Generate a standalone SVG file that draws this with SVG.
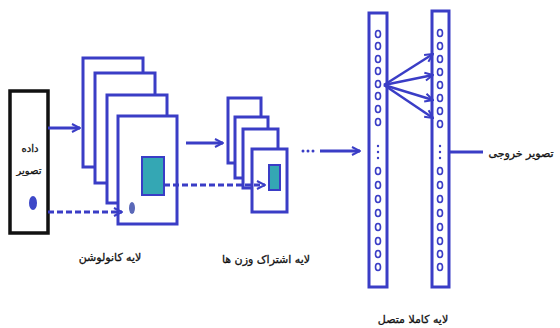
<svg xmlns="http://www.w3.org/2000/svg" width="560" height="328" viewBox="0 0 560 328">
<defs>
<style>
.b{fill:#fff;stroke:#3a3dc6;stroke-width:3}
.teal{fill:#34a7b4;stroke:#3a3dc6;stroke-width:2}
.ln{fill:none;stroke:#3a3dc6;stroke-width:3}
.dash{fill:none;stroke:#3a3dc6;stroke-width:3;stroke-dasharray:6 3}
.thin{fill:none;stroke:#3a3dc6;stroke-width:2.5}
.c{fill:none;stroke:#3a3dc6;stroke-width:1.6}
.d{fill:#3a3dc6}
.t{font-family:"DejaVu Sans",sans-serif;fill:#111;text-anchor:middle;stroke:#111;stroke-width:0.3}
</style>
<marker id="ah" viewBox="0 0 10 10" refX="9" refY="5" markerWidth="10" markerHeight="12" markerUnits="userSpaceOnUse" orient="auto">
<path d="M1,1 L9,5 L1,9" fill="none" stroke="#3a3dc6" stroke-width="2"/>
</marker>
</defs>
<rect width="560" height="328" fill="#fff"/>

<g id="input">
<rect x="10" y="91" width="38" height="142" fill="#fff" stroke="#111" stroke-width="3.5"/>
<text class="t" x="30" y="152" font-size="10">داده</text>
<text class="t" x="29" y="174" font-size="10">تصویر</text>
<ellipse cx="33" cy="203" rx="4" ry="7" fill="#3e48c8"/>
</g>

<g id="conv">
<rect class="b" x="83" y="58" width="60" height="109"/>
<rect class="b" x="95" y="73" width="60" height="110"/>
<rect class="b" x="107" y="95" width="60" height="108"/>
<rect class="b" x="118" y="116" width="59" height="108"/>
<rect class="teal" x="142" y="157" width="22" height="38"/>
<ellipse cx="132" cy="208" rx="3" ry="6" fill="#5a68b8"/>
<text class="t" x="110" y="261" font-size="11">لایه کانولوشن</text>
</g>

<g id="pool">
<rect class="b" x="228" y="98" width="33" height="65"/>
<rect class="b" x="235" y="117" width="33" height="61"/>
<rect class="b" x="243" y="129" width="35" height="59"/>
<rect class="b" x="252" y="149" width="35" height="63"/>
<rect class="teal" x="269" y="165" width="11" height="25"/>
<text class="t" x="266" y="263" font-size="11">لایه اشتراک وزن ها</text>
</g>

<g id="fc">
<rect class="b" x="369" y="13" width="18" height="274"/>
<rect class="b" x="432" y="11" width="17" height="276"/>
<g id="n1">
<ellipse class="c" cx="378" cy="34" rx="2.5" ry="3.5"/>
<ellipse class="c" cx="378" cy="46" rx="2.5" ry="3.5"/>
<ellipse class="c" cx="378" cy="59" rx="2.5" ry="3.5"/>
<ellipse class="c" cx="378" cy="71" rx="2.5" ry="3.5"/>
<ellipse class="c" cx="378" cy="84" rx="2.5" ry="3.5"/>
<ellipse class="c" cx="378" cy="96" rx="2.5" ry="3.5"/>
<ellipse class="c" cx="378" cy="109" rx="2.5" ry="3.5"/>
<ellipse class="c" cx="378" cy="122" rx="2.5" ry="3.5"/>
<circle class="d" cx="378" cy="146" r="1.2"/>
<circle class="d" cx="378" cy="152" r="1.2"/>
<circle class="d" cx="378" cy="158" r="1.2"/>
<ellipse class="c" cx="378" cy="171" rx="2.5" ry="3.5"/>
<ellipse class="c" cx="378" cy="185" rx="2.5" ry="3.5"/>
<ellipse class="c" cx="378" cy="199" rx="2.5" ry="3.5"/>
<ellipse class="c" cx="378" cy="213" rx="2.5" ry="3.5"/>
<ellipse class="c" cx="378" cy="227" rx="2.5" ry="3.5"/>
<ellipse class="c" cx="378" cy="241" rx="2.5" ry="3.5"/>
<ellipse class="c" cx="378" cy="254" rx="2.5" ry="3.5"/>
<ellipse class="c" cx="378" cy="267" rx="2.5" ry="3.5"/>
</g>
<g id="n2">
<ellipse class="c" cx="440" cy="33" rx="2.5" ry="3.5"/>
<ellipse class="c" cx="440" cy="46" rx="2.5" ry="3.5"/>
<ellipse class="c" cx="440" cy="59" rx="2.5" ry="3.5"/>
<ellipse class="c" cx="440" cy="72" rx="2.5" ry="3.5"/>
<ellipse class="c" cx="440" cy="85" rx="2.5" ry="3.5"/>
<ellipse class="c" cx="440" cy="98" rx="2.5" ry="3.5"/>
<ellipse class="c" cx="440" cy="111" rx="2.5" ry="3.5"/>
<ellipse class="c" cx="440" cy="124" rx="2.5" ry="3.5"/>
<circle class="d" cx="440" cy="146" r="1.2"/>
<circle class="d" cx="440" cy="152" r="1.2"/>
<circle class="d" cx="440" cy="158" r="1.2"/>
<ellipse class="c" cx="440" cy="171" rx="2.5" ry="3.5"/>
<ellipse class="c" cx="440" cy="185" rx="2.5" ry="3.5"/>
<ellipse class="c" cx="440" cy="199" rx="2.5" ry="3.5"/>
<ellipse class="c" cx="440" cy="213" rx="2.5" ry="3.5"/>
<ellipse class="c" cx="440" cy="227" rx="2.5" ry="3.5"/>
<ellipse class="c" cx="440" cy="241" rx="2.5" ry="3.5"/>
<ellipse class="c" cx="440" cy="254" rx="2.5" ry="3.5"/>
<ellipse class="c" cx="440" cy="267" rx="2.5" ry="3.5"/>
</g>
<text class="t" x="413" y="323" font-size="11">لایه کاملا متصل</text>
</g>

<g id="output">
<text class="t" x="521" y="157" font-size="11">تصویر خروجی</text>
</g>

<g id="connectors">
<line class="ln" x1="48" y1="128" x2="80" y2="128" marker-end="url(#ah)"/>
<line class="dash" x1="48" y1="212" x2="122" y2="212" marker-end="url(#ah)"/>
<line class="ln" x1="186" y1="143" x2="223" y2="143" marker-end="url(#ah)"/>
<line class="dash" x1="164" y1="185" x2="265" y2="185" marker-end="url(#ah)"/>
<circle class="d" cx="303" cy="151" r="1.5"/>
<circle class="d" cx="308" cy="151" r="1.5"/>
<circle class="d" cx="313" cy="151" r="1.5"/>
<line class="ln" x1="320" y1="151" x2="360" y2="151" marker-end="url(#ah)"/>
<line class="thin" x1="384" y1="85" x2="433" y2="54" marker-end="url(#ah)"/>
<line class="thin" x1="384" y1="85" x2="433" y2="75" marker-end="url(#ah)"/>
<line class="thin" x1="384" y1="85" x2="433" y2="100" marker-end="url(#ah)"/>
<line class="thin" x1="384" y1="85" x2="433" y2="118" marker-end="url(#ah)"/>
<line class="ln" x1="449" y1="152" x2="483" y2="152"/>
</g>
</svg>
